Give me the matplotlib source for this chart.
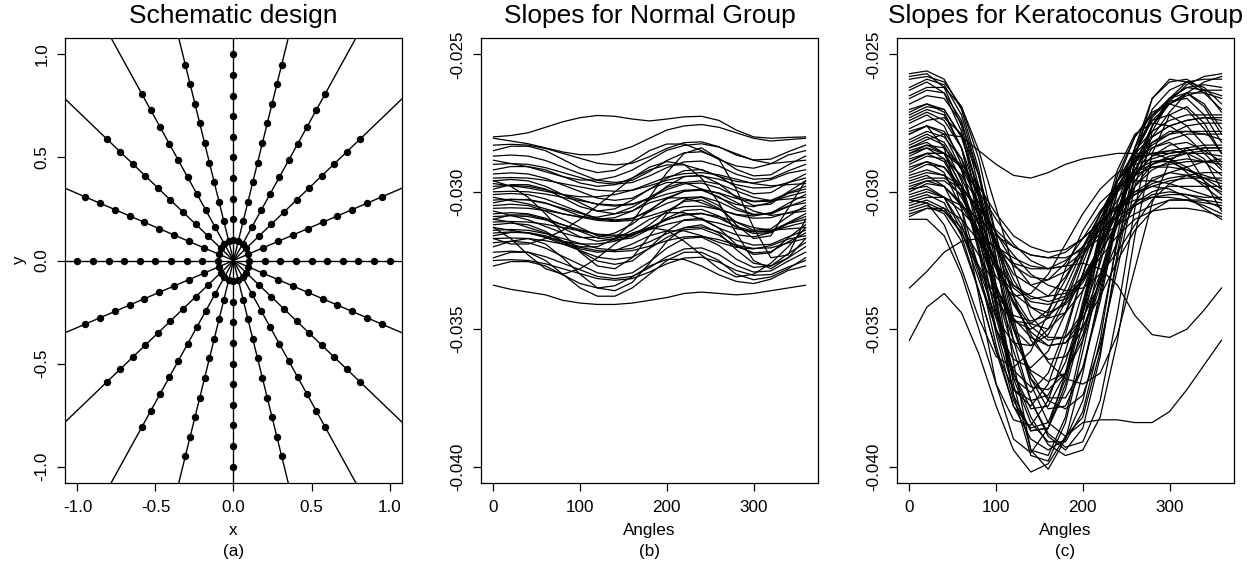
import numpy as np
import matplotlib
matplotlib.use("Agg")
import matplotlib.pyplot as plt

# fonts: R-style Helvetica look-alike
plt.rcParams["font.family"] = ["Liberation Sans", "DejaVu Sans"]
plt.rcParams["axes.unicode_minus"] = False

# ---------------- schematic design (panel a) ----------------
# lines through the centre, every 18 degrees
line_angles = [0, 18, 36, 54, 72, 90, 108, 126, 144, 162]
# sampling rays (both directions of every line)
ray_angles = [0, 18, 36, 54, 72, 90, 108, 126, 144, 162,
              180, 198, 216, 234, 252, 270, 288, 306, 324, 342]
# sampling radii along every ray
radii = [0.1, 0.2, 0.3, 0.4, 0.5, 0.6, 0.7, 0.8, 0.9, 1.0]

# ---------------- slope curves (panels b, c) ----------------
# angles (degrees) where the slopes were read
angles = [0, 20, 40, 60, 80, 100, 120, 140, 160, 180,
          200, 220, 240, 260, 280, 300, 320, 340, 360]

# slopes for the normal group, in units of 1e-3
normal_slopes = [
    [-28.0, -27.95, -27.85, -27.65, -27.45, -27.3, -27.22, -27.25, -27.35, -27.42, -27.35, -27.27, -27.25, -27.4, -27.75, -28.0, -28.05, -28.02, -28.0],
    [-33.4, -33.55, -33.65, -33.75, -33.95, -34.05, -34.1, -34.1, -34.05, -33.95, -33.85, -33.7, -33.65, -33.7, -33.75, -33.7, -33.6, -33.5, -33.4],
    [-28.05, -28.15, -28.25, -28.4, -28.55, -28.65, -28.65, -28.55, -28.35, -28.05, -27.75, -27.6, -27.55, -27.65, -27.85, -28.05, -28.15, -28.1, -28.05],
    [-28.3, -28.27, -28.3, -28.42, -28.6, -28.78, -28.96, -29.02, -28.96, -28.72, -28.42, -28.21, -28.18, -28.36, -28.66, -28.84, -28.81, -28.54, -28.3],
    [-28.5, -28.34, -28.34, -28.5, -28.82, -29.14, -29.3, -29.22, -28.9, -28.5, -28.26, -28.26, -28.5, -28.82, -29.06, -29.14, -28.98, -28.66, -28.5],
    [-28.7, -28.66, -28.7, -28.86, -29.1, -29.34, -29.58, -29.66, -29.58, -29.26, -28.86, -28.58, -28.54, -28.78, -29.18, -29.42, -29.38, -29.02, -28.7],
    [-28.85, -28.97, -29.09, -29.27, -29.45, -29.57, -29.57, -29.45, -29.21, -28.85, -28.49, -28.31, -28.25, -28.37, -28.61, -28.85, -28.97, -28.91, -28.85],
    [-29.0, -28.97, -29.0, -29.12, -29.3, -29.48, -29.66, -29.72, -29.66, -29.42, -29.12, -28.91, -28.88, -29.06, -29.36, -29.54, -29.51, -29.24, -29.0],
    [-29.2, -29.08, -29.08, -29.2, -29.44, -29.68, -29.8, -29.74, -29.5, -29.2, -29.02, -29.02, -29.2, -29.44, -29.62, -29.68, -29.56, -29.32, -29.2],
    [-29.35, -29.31, -29.35, -29.51, -29.75, -29.99, -30.23, -30.31, -30.23, -29.91, -29.51, -29.23, -29.19, -29.43, -29.83, -30.07, -30.03, -29.67, -29.35],
    [-29.5, -29.48, -29.5, -29.58, -29.7, -29.82, -29.94, -29.98, -29.94, -29.78, -29.58, -29.44, -29.42, -29.54, -29.74, -29.86, -29.84, -29.66, -29.5],
    [-29.6, -29.55, -29.6, -29.8, -30.1, -30.4, -30.7, -30.8, -30.7, -30.3, -29.8, -29.45, -29.4, -29.7, -30.2, -30.5, -30.45, -30.0, -29.6],
    [-29.7, -29.78, -29.86, -29.98, -30.1, -30.18, -30.18, -30.1, -29.94, -29.7, -29.46, -29.34, -29.3, -29.38, -29.54, -29.7, -29.78, -29.74, -29.7],
    [-29.8, -29.77, -29.8, -29.92, -30.1, -30.28, -30.46, -30.52, -30.46, -30.22, -29.92, -29.71, -29.68, -29.86, -30.16, -30.34, -30.31, -30.04, -29.8],
    [-29.9, -29.74, -29.74, -29.9, -30.22, -30.54, -30.7, -30.62, -30.3, -29.9, -29.66, -29.66, -29.9, -30.22, -30.46, -30.54, -30.38, -30.06, -29.9],
    [-30.0, -29.98, -30.0, -30.08, -30.2, -30.32, -30.44, -30.48, -30.44, -30.28, -30.08, -29.94, -29.92, -30.04, -30.24, -30.36, -30.34, -30.16, -30.0],
    [-30.1, -30.06, -30.1, -30.26, -30.5, -30.74, -30.98, -31.06, -30.98, -30.66, -30.26, -29.98, -29.94, -30.18, -30.58, -30.82, -30.78, -30.42, -30.1],
    [-30.2, -30.32, -30.44, -30.62, -30.8, -30.92, -30.92, -30.8, -30.56, -30.2, -29.84, -29.66, -29.6, -29.72, -29.96, -30.2, -30.32, -30.26, -30.2],
    [-30.3, -30.27, -30.3, -30.42, -30.6, -30.78, -30.96, -31.02, -30.96, -30.72, -30.42, -30.21, -30.18, -30.36, -30.66, -30.84, -30.81, -30.54, -30.3],
    [-30.4, -30.28, -30.28, -30.4, -30.64, -30.88, -31.0, -30.94, -30.7, -30.4, -30.22, -30.22, -30.4, -30.64, -30.82, -30.88, -30.76, -30.52, -30.4],
    [-30.5, -30.45, -30.5, -30.7, -31.0, -31.3, -31.6, -31.7, -31.6, -31.2, -30.7, -30.35, -30.3, -30.6, -31.1, -31.4, -31.35, -30.9, -30.5],
    [-30.6, -30.58, -30.6, -30.68, -30.8, -30.92, -31.04, -31.08, -31.04, -30.88, -30.68, -30.54, -30.52, -30.64, -30.84, -30.96, -30.94, -30.76, -30.6],
    [-30.7, -30.86, -31.02, -31.26, -31.5, -31.66, -31.66, -31.5, -31.18, -30.7, -30.22, -29.98, -29.9, -30.06, -30.38, -30.7, -30.86, -30.78, -30.7],
    [-30.8, -30.76, -30.8, -30.96, -31.2, -31.44, -31.68, -31.76, -31.68, -31.36, -30.96, -30.68, -30.64, -30.88, -31.28, -31.52, -31.48, -31.12, -30.8],
    [-30.9, -30.87, -30.9, -31.02, -31.2, -31.38, -31.56, -31.62, -31.56, -31.32, -31.02, -30.81, -30.78, -30.96, -31.26, -31.44, -31.41, -31.14, -30.9],
    [-31.0, -30.84, -30.84, -31.0, -31.32, -31.64, -31.8, -31.72, -31.4, -31.0, -30.76, -30.76, -31.0, -31.32, -31.56, -31.64, -31.48, -31.16, -31.0],
    [-31.1, -31.08, -31.1, -31.18, -31.3, -31.42, -31.54, -31.58, -31.54, -31.38, -31.18, -31.04, -31.02, -31.14, -31.34, -31.46, -31.44, -31.26, -31.1],
    [-31.2, -31.14, -31.2, -31.44, -31.8, -32.16, -32.52, -32.64, -32.52, -32.04, -31.44, -31.02, -30.96, -31.32, -31.92, -32.28, -32.22, -31.68, -31.2],
    [-31.3, -31.4, -31.5, -31.65, -31.8, -31.9, -31.9, -31.8, -31.6, -31.3, -31.0, -30.85, -30.8, -30.9, -31.1, -31.3, -31.4, -31.35, -31.3],
    [-31.4, -31.37, -31.4, -31.52, -31.7, -31.88, -32.06, -32.12, -32.06, -31.82, -31.52, -31.31, -31.28, -31.46, -31.76, -31.94, -31.91, -31.64, -31.4],
    [-31.5, -31.46, -31.5, -31.66, -31.9, -32.14, -32.38, -32.46, -32.38, -32.06, -31.66, -31.38, -31.34, -31.58, -31.98, -32.22, -32.18, -31.82, -31.5],
    [-31.6, -31.48, -31.48, -31.6, -31.84, -32.08, -32.2, -32.14, -31.9, -31.6, -31.42, -31.42, -31.6, -31.84, -32.02, -32.08, -31.96, -31.72, -31.6],
    [-31.7, -31.68, -31.7, -31.78, -31.9, -32.02, -32.14, -32.18, -32.14, -31.98, -31.78, -31.64, -31.62, -31.74, -31.94, -32.06, -32.04, -31.86, -31.7],
    [-31.85, -31.8, -31.85, -32.05, -32.35, -32.65, -32.95, -33.05, -32.95, -32.55, -32.05, -31.7, -31.65, -31.95, -32.45, -32.75, -32.7, -32.25, -31.85],
    [-32.2, -32.16, -32.2, -32.36, -32.6, -32.84, -33.08, -33.16, -33.08, -32.76, -32.36, -32.08, -32.04, -32.28, -32.68, -32.92, -32.88, -32.52, -32.2],
    [-32.5, -32.47, -32.5, -32.62, -32.8, -32.98, -33.16, -33.22, -33.16, -32.92, -32.62, -32.41, -32.38, -32.56, -32.86, -33.04, -33.01, -32.74, -32.5],
    [-32.7, -32.54, -32.54, -32.7, -33.02, -33.34, -33.5, -33.42, -33.1, -32.7, -32.46, -32.46, -32.7, -33.02, -33.26, -33.34, -33.18, -32.86, -32.7],
    [-31.0, -31.1, -31.3, -31.5, -31.8, -32.0, -32.0, -31.7, -31.1, -30.2, -29.3, -28.6, -28.4, -28.8, -29.9, -31.3, -32.4, -32.3, -31.0],
    [-31.7, -31.9, -31.9, -31.7, -31.4, -31.0, -30.5, -30.0, -29.5, -29.1, -28.9, -29.0, -29.5, -30.4, -31.5, -32.5, -32.8, -32.4, -31.7],
    [-32.0, -31.8, -31.7, -31.9, -32.4, -33.0, -33.5, -33.6, -33.3, -32.6, -31.8, -31.3, -31.2, -31.5, -32.1, -32.6, -32.7, -32.4, -32.0],
    [-29.6, -29.8, -30.2, -30.8, -31.5, -32.2, -32.7, -32.8, -32.4, -31.6, -30.8, -30.3, -30.2, -30.5, -31.2, -31.7, -31.6, -30.6, -29.6],
    [-32.4, -32.2, -32.2, -32.5, -33.0, -33.5, -33.8, -33.8, -33.5, -33.0, -32.5, -32.2, -32.2, -32.5, -33.0, -33.2, -33.1, -32.8, -32.4],
    [-31.3, -31.7, -32.3, -32.8, -33.0, -32.8, -32.4, -31.9, -31.5, -31.3, -31.4, -31.8, -32.3, -32.8, -33.1, -33.0, -32.6, -32.0, -31.3],
]

# slopes for the keratoconus group, in units of 1e-3
kerato_slopes = [
    [-25.7, -25.6, -25.9, -27.0, -29.2, -32.4, -36.2, -39.4, -40.1, -39.0, -36.6, -33.6, -31.0, -29.0, -27.6, -26.7, -26.1, -25.8, -25.7],
    [-25.8, -25.7, -26.2, -27.6, -30.2, -33.8, -37.4, -39.6, -39.8, -38.4, -35.8, -33.0, -30.8, -29.2, -28.0, -27.1, -26.4, -26.0, -25.8],
    [-35.4, -34.2, -33.7, -34.4, -35.9, -37.8, -39.4, -40.2, -39.9, -38.9, -38.4, -38.3, -38.3, -38.4, -38.4, -38.0, -37.2, -36.3, -35.4],
    [-26.6, -26.3, -26.4, -27.4, -29.8, -33.4, -37.0, -39.4, -39.6, -38.2, -35.4, -32.4, -30.0, -28.4, -27.4, -26.8, -26.4, -26.4, -26.6],
    [-26.8, -26.5, -26.6, -27.5, -29.4, -32.0, -34.8, -37.0, -38.4, -38.9, -38.2, -35.8, -32.4, -29.4, -27.6, -26.6, -26.0, -26.2, -26.8],
    [-27.0, -26.8, -27.0, -28.0, -30.0, -32.6, -35.4, -37.6, -38.9, -39.4, -38.6, -36.0, -32.2, -28.8, -26.6, -25.9, -26.0, -26.4, -27.0],
    [-27.3, -27.0, -27.2, -28.4, -30.8, -34.0, -36.6, -37.9, -37.8, -36.6, -34.4, -32.0, -30.0, -28.8, -28.0, -27.6, -27.4, -27.3, -27.3],
    [-27.5, -27.2, -27.6, -29.0, -31.6, -34.6, -36.8, -37.3, -36.6, -35.0, -33.0, -31.2, -29.8, -28.9, -28.3, -27.9, -27.6, -27.5, -27.5],
    [-27.7, -27.4, -27.3, -27.9, -29.4, -31.6, -33.8, -35.4, -36.1, -36.0, -35.0, -33.2, -31.0, -29.0, -27.6, -26.8, -26.4, -26.8, -27.7],
    [-27.9, -27.6, -27.9, -29.2, -31.2, -33.4, -35.0, -35.6, -35.2, -34.0, -32.4, -30.8, -29.6, -28.8, -28.4, -28.1, -27.9, -27.9, -27.9],
    [-28.1, -27.8, -28.0, -28.8, -30.2, -31.8, -33.2, -34.2, -34.6, -34.4, -33.6, -32.2, -30.6, -29.2, -28.2, -27.8, -27.8, -27.9, -28.1],
    [-28.3, -28.0, -28.3, -29.6, -32.0, -35.0, -37.2, -37.8, -37.0, -35.2, -33.0, -31.0, -29.6, -28.9, -28.6, -28.5, -28.4, -28.3, -28.3],
    [-28.5, -28.3, -28.4, -29.1, -30.4, -31.9, -33.0, -33.4, -33.2, -32.6, -31.7, -30.7, -29.9, -29.3, -29.0, -28.8, -28.6, -28.5, -28.5],
    [-28.6, -28.3, -28.6, -29.8, -32.2, -35.2, -37.6, -38.7, -38.6, -37.2, -34.8, -32.0, -29.6, -28.0, -27.1, -26.8, -27.0, -27.7, -28.6],
    [-28.8, -28.6, -28.6, -29.0, -29.8, -30.8, -31.6, -32.0, -32.2, -32.1, -31.7, -31.1, -30.5, -30.0, -29.6, -29.3, -29.1, -28.9, -28.8],
    [-28.9, -28.6, -28.9, -30.0, -31.8, -33.6, -34.7, -35.0, -34.6, -33.5, -32.1, -30.8, -29.9, -29.4, -29.1, -29.0, -28.9, -28.9, -28.9],
    [-28.4, -28.1, -27.9, -28.0, -28.5, -29.0, -29.4, -29.5, -29.3, -29.0, -28.8, -28.7, -28.6, -28.6, -28.6, -28.6, -28.5, -28.4, -28.4],
    [-29.1, -28.9, -29.1, -30.0, -31.6, -33.6, -35.4, -36.5, -36.9, -36.6, -35.4, -33.4, -30.8, -28.6, -27.4, -27.2, -27.6, -28.3, -29.1],
    [-29.3, -29.0, -29.1, -29.8, -30.8, -31.9, -32.7, -33.1, -33.2, -32.9, -32.3, -31.5, -30.7, -30.1, -29.7, -29.5, -29.4, -29.3, -29.3],
    [-29.4, -29.2, -29.4, -30.2, -31.4, -32.6, -33.5, -34.0, -34.1, -33.9, -33.2, -32.0, -30.6, -29.4, -28.7, -28.5, -28.6, -28.9, -29.4],
    [-29.5, -29.3, -29.4, -29.8, -30.6, -31.4, -32.0, -32.3, -32.4, -32.2, -31.7, -31.1, -30.5, -30.1, -29.8, -29.6, -29.5, -29.5, -29.5],
    [-29.6, -29.4, -29.8, -31.0, -32.8, -34.6, -35.5, -35.6, -35.0, -33.8, -32.3, -31.0, -30.0, -29.4, -29.1, -29.1, -29.2, -29.4, -29.6],
    [-29.8, -29.6, -29.8, -30.5, -31.6, -32.8, -33.7, -34.2, -34.4, -34.1, -33.3, -32.2, -31.1, -30.4, -30.0, -29.8, -29.8, -29.8, -29.8],
    [-29.9, -29.8, -30.2, -31.4, -33.2, -35.0, -36.1, -36.4, -35.8, -34.4, -32.6, -31.0, -29.9, -29.2, -28.9, -28.9, -29.2, -29.5, -29.9],
    [-30.0, -29.7, -29.8, -30.4, -31.5, -32.8, -34.0, -34.9, -35.4, -35.3, -34.6, -33.3, -31.8, -30.4, -29.5, -29.3, -29.4, -29.7, -30.0],
    [-30.2, -30.0, -30.2, -30.7, -31.4, -32.1, -32.6, -32.8, -32.8, -32.5, -32.0, -31.4, -30.9, -30.5, -30.2, -30.1, -30.1, -30.2, -30.2],
    [-30.3, -30.1, -30.4, -31.6, -33.6, -35.8, -37.2, -37.6, -37.4, -36.2, -34.2, -31.8, -29.8, -28.8, -28.6, -28.8, -29.3, -29.8, -30.3],
    [-30.5, -30.3, -30.6, -31.5, -32.8, -34.0, -34.7, -34.8, -34.3, -33.2, -32.0, -31.1, -30.6, -30.3, -30.2, -30.2, -30.3, -30.4, -30.5],
    [-30.7, -30.5, -30.8, -31.8, -33.6, -35.8, -37.8, -39.0, -39.4, -39.0, -37.6, -35.0, -31.8, -29.4, -28.4, -28.2, -28.6, -29.6, -30.7],
    [-30.9, -30.6, -30.6, -31.0, -31.8, -32.7, -33.4, -33.8, -34.0, -33.8, -33.2, -32.4, -31.6, -31.0, -30.7, -30.6, -30.6, -30.7, -30.9],
    [-33.5, -32.9, -32.2, -31.8, -31.7, -32.0, -32.4, -32.7, -32.8, -32.7, -32.6, -32.8, -33.4, -34.5, -35.2, -35.3, -35.0, -34.3, -33.5],
    [-25.9, -25.8, -26.0, -26.9, -28.8, -31.6, -34.6, -36.8, -37.9, -37.8, -36.4, -33.8, -30.8, -28.4, -27.0, -26.3, -26.0, -25.9, -25.9],
    [-26.3, -26.0, -26.4, -27.8, -30.6, -34.2, -37.4, -38.7, -38.6, -37.0, -34.4, -31.6, -29.4, -28.0, -27.2, -26.8, -26.5, -26.3, -26.3],
    [-26.5, -26.2, -26.2, -26.9, -28.5, -30.6, -32.8, -34.5, -35.3, -35.3, -34.4, -32.6, -30.4, -28.6, -27.3, -26.6, -26.2, -26.3, -26.5],
    [-27.2, -26.9, -27.0, -28.0, -29.9, -32.0, -33.8, -34.8, -35.0, -34.4, -33.0, -31.2, -29.6, -28.5, -27.8, -27.4, -27.2, -27.2, -27.2],
    [-27.4, -27.1, -27.4, -28.4, -30.2, -32.0, -33.4, -33.9, -33.8, -33.1, -32.0, -30.8, -29.6, -28.6, -28.0, -27.6, -27.4, -27.3, -27.4],
    [-27.9, -27.6, -27.8, -28.8, -30.6, -32.8, -35.0, -36.6, -37.6, -37.9, -37.4, -35.6, -32.8, -29.8, -27.6, -26.6, -26.4, -26.9, -27.9],
    [-28.2, -27.9, -28.2, -29.2, -31.2, -33.6, -35.8, -37.6, -38.8, -39.3, -39.1, -37.6, -34.4, -30.6, -27.8, -26.7, -26.6, -27.2, -28.2],
    [-28.4, -28.2, -28.6, -29.8, -31.6, -33.1, -33.8, -33.7, -33.0, -31.9, -30.8, -29.9, -29.3, -29.0, -28.8, -28.6, -28.5, -28.4, -28.4],
    [-28.7, -28.4, -28.6, -29.5, -30.9, -32.6, -34.1, -35.1, -35.6, -35.5, -34.6, -33.0, -31.2, -29.8, -29.0, -28.7, -28.6, -28.6, -28.7],
    [-29.0, -28.7, -28.8, -29.4, -30.4, -31.5, -32.6, -33.4, -33.8, -33.7, -33.1, -32.0, -30.8, -29.8, -29.2, -28.9, -28.8, -28.9, -29.0],
    [-29.2, -28.9, -29.3, -30.6, -32.8, -35.6, -37.8, -38.6, -38.4, -36.8, -34.2, -31.4, -29.2, -27.9, -27.5, -27.6, -28.0, -28.6, -29.2],
    [-29.7, -29.5, -29.5, -29.9, -30.6, -31.5, -32.3, -33.0, -33.4, -33.6, -33.5, -33.0, -32.2, -31.2, -30.3, -29.7, -29.4, -29.5, -29.7],
    [-30.1, -29.9, -30.2, -31.2, -33.0, -35.0, -36.5, -37.1, -37.2, -36.6, -35.2, -33.2, -31.0, -29.6, -28.9, -28.8, -29.1, -29.6, -30.1],
    [-30.4, -30.2, -30.2, -30.5, -31.0, -31.6, -32.0, -32.3, -32.4, -32.4, -32.1, -31.7, -31.2, -30.8, -30.5, -30.3, -30.3, -30.3, -30.4],
    [-30.6, -30.4, -30.7, -31.5, -32.7, -33.8, -34.5, -34.7, -34.5, -34.0, -33.2, -32.2, -31.2, -30.5, -30.1, -30.0, -30.1, -30.3, -30.6],
    [-30.8, -30.6, -30.7, -31.3, -32.3, -33.5, -34.6, -35.3, -35.6, -35.5, -34.9, -33.8, -32.5, -31.4, -30.7, -30.3, -30.3, -30.5, -30.8],
    [-29.9, -29.6, -29.6, -30.1, -31.2, -32.6, -34.0, -35.2, -36.2, -36.8, -37.0, -36.6, -35.2, -32.8, -30.4, -28.9, -28.4, -28.8, -29.9],
    [-28.9, -28.6, -28.6, -29.1, -30.0, -31.0, -31.9, -32.5, -32.8, -32.7, -32.2, -31.3, -30.3, -29.4, -28.7, -28.3, -28.2, -28.5, -28.9],
    [-27.1, -26.8, -27.1, -28.4, -31.0, -34.2, -36.8, -38.4, -39.1, -39.1, -38.0, -35.4, -31.6, -28.4, -26.6, -26.0, -25.9, -26.3, -27.1],
    [-26.2, -25.9, -26.1, -27.2, -29.4, -32.4, -35.0, -36.8, -37.5, -37.5, -36.4, -34.0, -31.0, -28.6, -27.2, -26.6, -26.2, -26.1, -26.2],
    [-31.0, -31.0, -31.6, -33.0, -35.0, -37.0, -38.3, -38.5, -37.6, -35.8, -33.6, -31.8, -30.6, -30.0, -29.8, -29.9, -30.2, -30.6, -31.0],
    [-30.3, -30.4, -31.2, -32.8, -34.6, -36.0, -36.4, -35.8, -34.4, -32.8, -31.4, -30.4, -29.8, -29.6, -29.6, -29.7, -29.9, -30.1, -30.3],
    [-27.8, -27.6, -28.4, -30.6, -33.8, -37.0, -39.0, -39.5, -38.6, -36.6, -34.0, -31.6, -29.8, -28.8, -28.2, -27.9, -27.8, -27.8, -27.8],
    [-28.6, -28.4, -28.8, -30.0, -32.0, -34.4, -36.6, -38.2, -39.2, -39.6, -39.4, -38.2, -35.4, -31.6, -28.6, -27.2, -26.9, -27.5, -28.6],
]

slope_ticks = [-0.040, -0.035, -0.030, -0.025]
angle_ticks = [0, 100, 200, 300]
xy_ticks = [-1.0, -0.5, 0.0, 0.5, 1.0]

titles = ["Schematic design", "Slopes for Normal Group", "Slopes for Keratoconus Group"]
xlabels = ["x", "Angles", "Angles"]
panel_tags = ["(a)", "(b)", "(c)"]

# figure and the three boxes (positions in figure fractions)
fig = plt.figure(figsize=(12.6, 5.69), dpi=100)
lefts = [65 / 1260, 481 / 1260, 897 / 1260]
axs = [fig.add_axes([l, 86 / 569, 337 / 1260, 445 / 569]) for l in lefts]


def style_axes(ax, title, xlabel, tag, yfmt):
    for sp in ax.spines.values():
        sp.set_linewidth(0.9)
    ax.tick_params(direction="out", length=6, width=0.9, labelsize=12.3)
    ax.tick_params(axis="x", pad=6)
    ax.tick_params(axis="y", pad=5)
    ax.yaxis.set_major_formatter(plt.FormatStrFormatter(yfmt))
    for lbl in ax.get_yticklabels():
        lbl.set_rotation(90)
        lbl.set_va("center")
    ax.set_title(title, fontsize=19, pad=11)
    ax.set_xlabel(xlabel, fontsize=12.3, va="center")
    ax.xaxis.set_label_coords(0.5, -0.106)
    ax.text(0.5, -0.155, tag, transform=ax.transAxes, ha="center", va="center", fontsize=12.3)


# panel (a): rays through the centre with sampling points
ax = axs[0]
for a in line_angles:
    t = np.deg2rad(a)
    ax.axline((0, 0), (np.cos(t), np.sin(t)), color="black", lw=1.0)
r = np.array(radii)
for a in ray_angles:
    t = np.deg2rad(a)
    ax.plot(r * np.cos(t), r * np.sin(t), "o", color="black", ms=4.3, ls="none")
ax.set_xlim(-1.08, 1.08)
ax.set_ylim(-1.08, 1.08)
ax.set_xticks(xy_ticks)
ax.set_yticks(xy_ticks)
ax.xaxis.set_major_formatter(plt.FormatStrFormatter("%.1f"))
style_axes(ax, titles[0], xlabels[0], panel_tags[0], "%.1f")
ax.set_ylabel("y", fontsize=12.3, va="center")
ax.yaxis.set_label_coords(-0.134, 0.5)

# panels (b) and (c): slope curves
for ax, curves, k in [(axs[1], normal_slopes, 1), (axs[2], kerato_slopes, 2)]:
    for c in curves:
        ax.plot(angles, np.array(c) * 1e-3, color="black", lw=0.9)
    ax.set_xlim(-14.4, 374.4)
    ax.set_ylim(-0.0406, -0.0244)
    ax.set_xticks(angle_ticks)
    ax.set_yticks(slope_ticks)
    style_axes(ax, titles[k], xlabels[k], panel_tags[k], "%.3f")

plt.savefig("out.png", dpi=100)
